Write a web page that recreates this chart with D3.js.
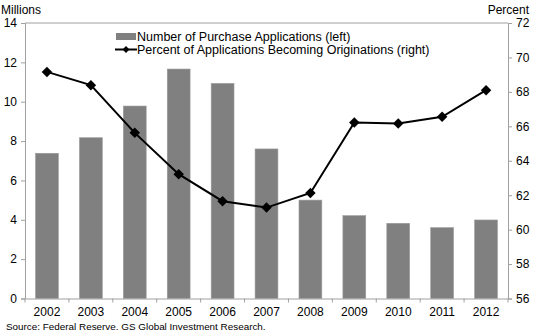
<!DOCTYPE html>
<html><head><meta charset="utf-8">
<script src="https://cdn.jsdelivr.net/npm/d3@7"></script>
<style>body{margin:0;background:#fff}svg{display:block;font-family:"Liberation Sans",Arial,sans-serif}</style>
</head><body><svg id="c" width="538" height="336"></svg>
<script>
const years = ["2002","2003","2004","2005","2006","2007","2008","2009","2010","2011","2012"];
const applications = [7.38,8.17,9.78,11.66,10.93,7.60,5.00,4.21,3.82,3.60,3.99];
const pctOrig = [69.16,68.39,65.62,63.22,61.65,61.28,62.13,66.22,66.16,66.55,68.1];
const leftTicks = [0,2,4,6,8,10,12,14];
const rightTicks = [56,58,60,62,64,66,68,70,72];
const legendLabels = ["Number of Purchase Applications (left)","Percent of Applications Becoming Originations (right)"];

const svg = d3.select("#c");
const L=25, R=508, T=23, B=298.5;
const axisCol="#a0a0a0";
const x = d3.scaleBand().domain(years).range([L,R]).paddingInner(0.48).paddingOuter(0.24);
const xb = d3.scaleBand().domain(years).range([L,R]);
const yL = d3.scaleLinear().domain([0,14]).range([B,T]);
const yR = d3.scaleLinear().domain([56,72]).range([B,T]);

// top border
svg.append("line").attr("x1",L).attr("x2",R).attr("y1",T).attr("y2",T).attr("stroke",axisCol);

// bars
svg.selectAll("rect.bar").data(years).join("rect").attr("class","bar")
 .attr("x",d=>x(d)).attr("width",x.bandwidth())
 .attr("y",(d,i)=>yL(applications[i])).attr("height",(d,i)=>B-yL(applications[i]))
 .attr("fill","#808080").attr("stroke","#9a9a9a").attr("stroke-width",0.6);

// axes
const gl = svg.append("g").attr("transform",`translate(${L},0)`)
 .call(d3.axisLeft(yL).tickValues(leftTicks).tickSize(4).tickPadding(4));
const gr = svg.append("g").attr("transform",`translate(${R},0)`)
 .call(d3.axisRight(yR).tickValues(rightTicks).tickSize(4).tickPadding(4));
const gx = svg.append("g").attr("transform",`translate(0,${B})`)
 .call(d3.axisBottom(xb).tickSize(0).tickPadding(9));
[gl,gr,gx].forEach(g=>{
  g.selectAll("path,line").attr("stroke",axisCol);
  g.selectAll("text").attr("fill","#000").style("font-size","12px").style("font-family","Liberation Sans, Arial, sans-serif");
});
// x ticks at category boundaries
svg.selectAll("line.xt").data(d3.range(years.length+1)).join("line").attr("class","xt")
 .attr("x1",i=>L+i*xb.step()).attr("x2",i=>L+i*xb.step()).attr("y1",B).attr("y2",B+4).attr("stroke",axisCol);

// line
const line = d3.line().x((d,i)=>xb(years[i])+xb.bandwidth()/2).y(d=>yR(d));
svg.append("path").datum(pctOrig).attr("d",line).attr("fill","none").attr("stroke","#000").attr("stroke-width",2);
const diamond = d3.symbol().type(d3.symbolDiamond2).size(70);
svg.selectAll("path.pt").data(pctOrig).join("path").attr("class","pt")
 .attr("d",diamond).attr("transform",(d,i)=>`translate(${xb(years[i])+xb.bandwidth()/2},${yR(d)})`).attr("fill","#000");

// axis titles
svg.append("text").attr("x",1).attr("y",13.5).text("Millions").style("font-size","12px");
svg.append("text").attr("x",529).attr("y",13.5).attr("text-anchor","end").text("Percent").style("font-size","12px");

// legend
const lg = svg.append("g").style("font-size","12.5px");
lg.append("rect").attr("x",116).attr("y",33).attr("width",20).attr("height",7).attr("fill","#808080");
lg.append("text").attr("x",137).attr("y",41).text(legendLabels[0]);
lg.append("line").attr("x1",115).attr("x2",137).attr("y1",49.5).attr("y2",49.5).attr("stroke","#000").attr("stroke-width",2);
lg.append("path").attr("d",d3.symbol().type(d3.symbolDiamond2).size(30)).attr("transform","translate(126,49.5)");
lg.append("text").attr("x",137).attr("y",54).text(legendLabels[1]);

// source
svg.append("text").attr("x",6).attr("y",330).text("Source: Federal Reserve. GS Global Investment Research.").style("font-size","9.9px");
</script></body></html>
